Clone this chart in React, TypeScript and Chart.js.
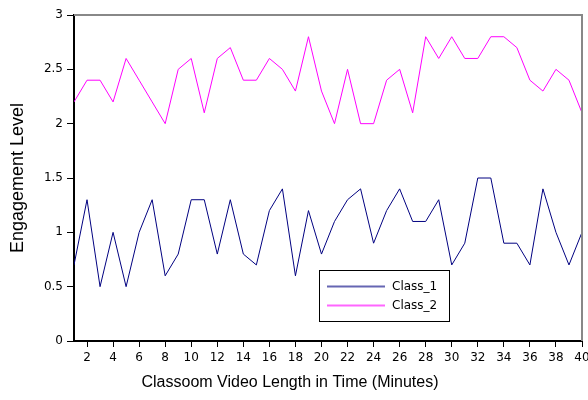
import React, { useEffect, useRef } from "react";
import { Chart, registerables } from "chart.js";

Chart.register(...registerables);

const minutes: number[] = Array.from({ length: 40 }, (_, i) => i + 1);
const class1: number[] = [
  0.7, 1.3, 0.5, 1.0, 0.5, 1.0, 1.3, 0.6, 0.8, 1.3,
  1.3, 0.8, 1.3, 0.8, 0.7, 1.2, 1.4, 0.6, 1.2, 0.8,
  1.1, 1.3, 1.4, 0.9, 1.2, 1.4, 1.1, 1.1, 1.3, 0.7,
  0.9, 1.5, 1.5, 0.9, 0.9, 0.7, 1.4, 1.0, 0.7, 1.0,
];
const class2: number[] = [
  2.2, 2.4, 2.4, 2.2, 2.6, 2.4, 2.2, 2.0, 2.5, 2.6,
  2.1, 2.6, 2.7, 2.4, 2.4, 2.6, 2.5, 2.3, 2.8, 2.3,
  2.0, 2.5, 2.0, 2.0, 2.4, 2.5, 2.1, 2.8, 2.6, 2.8,
  2.6, 2.6, 2.8, 2.8, 2.7, 2.4, 2.3, 2.5, 2.4, 2.1,
];
const xTicks: number[] = [2, 4, 6, 8, 10, 12, 14, 16, 18, 20, 22, 24, 26, 28, 30, 32, 34, 36, 38, 40];
const yTicks: number[] = [0, 0.5, 1, 1.5, 2, 2.5, 3];
const seriesNames: string[] = ["Class_1", "Class_2"];
const seriesColors: string[] = ["#000080", "#ff00ff"];
const xTitle = "Classoom Video Length in Time (Minutes)";
const yTitle = "Engagement Level";

const tickFont = { family: "DejaVu Sans", size: 12 };

const framePlugin = {
  id: "frame",
  afterDatasetsDraw(chart: any) {
    const { ctx, chartArea } = chart;
    ctx.save();
    ctx.strokeStyle = "#888888";
    ctx.lineWidth = 2;
    ctx.beginPath();
    ctx.moveTo(chartArea.left, chartArea.top);
    ctx.lineTo(chartArea.right, chartArea.top);
    ctx.lineTo(chartArea.right, chartArea.bottom);
    ctx.stroke();
    // axis titles
    ctx.fillStyle = "#000000";
    ctx.textAlign = "center";
    ctx.textBaseline = "middle";
    ctx.font = "16px 'Liberation Sans'";
    ctx.fillText(xTitle, 290, 383);
    ctx.save();
    ctx.translate(18, (chartArea.top + chartArea.bottom) / 2);
    ctx.rotate(-Math.PI / 2);
    ctx.font = "18px 'Liberation Sans'";
    ctx.fillText(yTitle, 0, 0);
    ctx.restore();
    // legend
    const bx = 319.5, by = 270.5, bw = 130, bh = 51;
    ctx.fillStyle = "#ffffff";
    ctx.fillRect(bx, by, bw, bh);
    ctx.strokeStyle = "#000000";
    ctx.lineWidth = 1;
    ctx.strokeRect(bx, by, bw, bh);
    ctx.font = "12px 'DejaVu Sans'";
    ctx.textAlign = "left";
    ctx.textBaseline = "middle";
    const rows = [286.5, 305.5];
    seriesNames.forEach((name, i) => {
      ctx.strokeStyle = seriesColors[i];
      ctx.globalAlpha = 0.6;
      ctx.lineWidth = 2;
      ctx.beginPath();
      ctx.moveTo(327, rows[i]);
      ctx.lineTo(385, rows[i]);
      ctx.stroke();
      ctx.globalAlpha = 1;
      ctx.fillStyle = "#000000";
      ctx.fillText(name, 392, rows[i]);
    });
    ctx.restore();
  },
};

export default function App() {
  const ref = useRef<HTMLCanvasElement>(null);
  useEffect(() => {
    const chart = new Chart(ref.current!, {
      type: "line",
      data: {
        datasets: seriesNames.map((name, i) => ({
          label: name,
          data: minutes.map((m, j) => ({ x: m, y: (i === 0 ? class1 : class2)[j] })),
          borderColor: seriesColors[i],
          borderWidth: 1,
          pointRadius: 0,
          tension: 0,
          fill: false,
        })),
      },
      options: {
        animation: false,
        responsive: false,
        layout: { padding: { top: 15, right: 6, left: 0, bottom: 0 } },
        plugins: { legend: { display: false }, tooltip: { enabled: false } },
        scales: {
          x: {
            type: "linear",
            min: 1,
            max: 40,
            afterBuildTicks: (s: any) => {
              s.ticks = xTicks.map((v) => ({ value: v }));
            },
            afterFit: (s: any) => {
              s.height = 59;
              s.paddingRight = 0;
              s.paddingLeft = 0;
            },
            ticks: { font: tickFont, color: "#000", maxRotation: 0, autoSkip: false, padding: 4 },
            grid: { display: true, drawOnChartArea: false, tickLength: 6, color: "#000", lineWidth: 1 },
            border: { display: true, color: "#000", width: 2 },
          },
          y: {
            type: "linear",
            min: 0,
            max: 3,
            afterBuildTicks: (s: any) => {
              s.ticks = yTicks.map((v) => ({ value: v }));
            },
            afterFit: (s: any) => {
              s.width = 74;
              s.paddingTop = 0;
              s.paddingBottom = 0;
            },
            ticks: { font: tickFont, color: "#000", padding: 4, callback: (v: any) => String(v) },
            grid: { display: true, drawOnChartArea: false, tickLength: 7, color: "#000", lineWidth: 1 },
            border: { display: true, color: "#000", width: 2 },
          },
        },
      },
      plugins: [framePlugin],
    } as any);
    return () => chart.destroy();
  }, []);
  return (
    <div style={{ position: "absolute", left: 0, top: 0, width: 588, height: 400, background: "#fff" }}>
      <canvas ref={ref} width={588} height={400} style={{ width: 588, height: 400 }} />
    </div>
  );
}
